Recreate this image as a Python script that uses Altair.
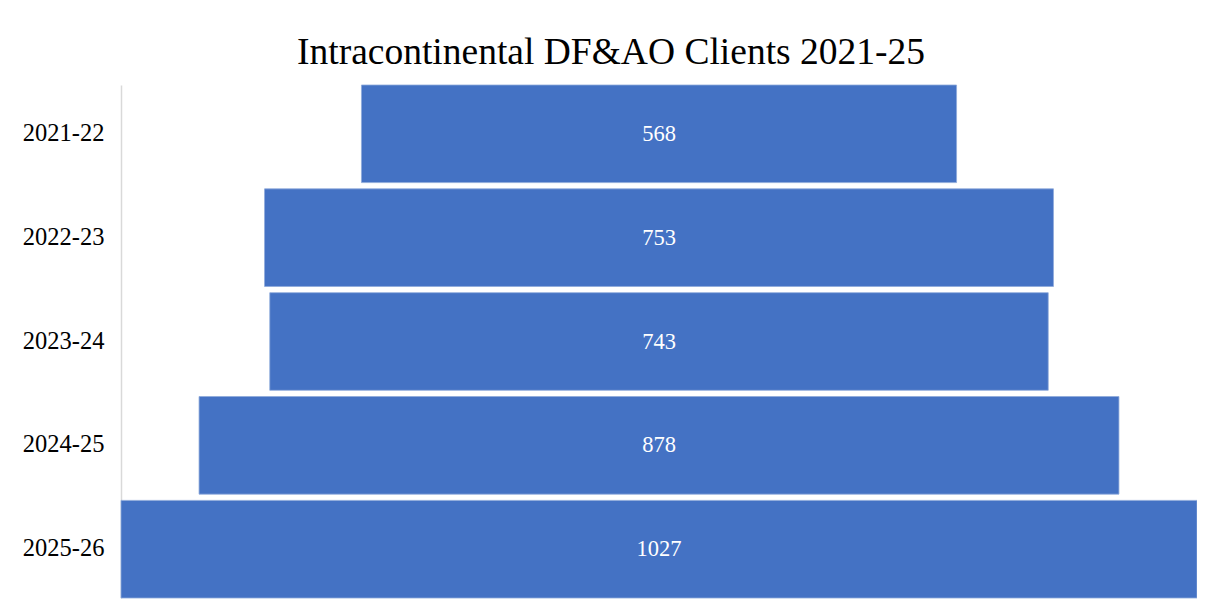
import altair as alt
import pandas as pd

years = ["2021-22", "2022-23", "2023-24", "2024-25", "2025-26"]
clients = [568, 753, 743, 878, 1027]

df = pd.DataFrame({"year": years, "clients": clients})

FONT = "Liberation Serif"
maxv = max(clients)

base = alt.Chart(df).transform_calculate(
    x0="-datum.clients / 2",
    x1="datum.clients / 2",
    mid="0",
)

y_enc = alt.Y(
    "year:N",
    sort=years,
    title=None,
    scale=alt.Scale(paddingInner=0.06, paddingOuter=0.0),
    axis=alt.Axis(
        domain=True,
        domainColor="#d9d9d9",
        domainWidth=1.5,
        ticks=False,
        labelFont=FONT,
        labelFontSize=24.5,
        labelColor="#000000",
        labelPadding=17,
        grid=False,
    ),
)

x_scale = alt.Scale(domain=[-maxv / 2, maxv / 2], nice=False, zero=False)

bars = base.mark_bar(color="#4472C4", stroke="#8eaadb", strokeWidth=0.8).encode(
    y=y_enc,
    x=alt.X("x0:Q", scale=x_scale, axis=None),
    x2="x1:Q",
)

labels = base.mark_text(
    font=FONT, fontSize=22.5, color="#ffffff", baseline="middle", align="center"
).encode(
    y=y_enc,
    x=alt.X("mid:Q", scale=x_scale, axis=None),
    text="clients:Q",
)

chart = (
    alt.layer(bars, labels)
    .properties(
        width=1076,
        height=513,
        background="#ffffff",
        title=alt.TitleParams(
            "Intracontinental DF&AO Clients 2021-25",
            font=FONT,
            fontSize=37.5,
            fontWeight="normal",
            color="#000000",
            anchor="middle",
            dx=-48,
            offset=13,
        ),
        autosize=alt.AutoSizeParams(type="none"),
        padding={"left": 113, "top": 77, "right": 0, "bottom": 2},
    )
    .configure_view(strokeWidth=0, stroke=None)
    .configure_axis(grid=False)
)

chart.save("out.html", embed_options={"renderer": "svg", "actions": False})
